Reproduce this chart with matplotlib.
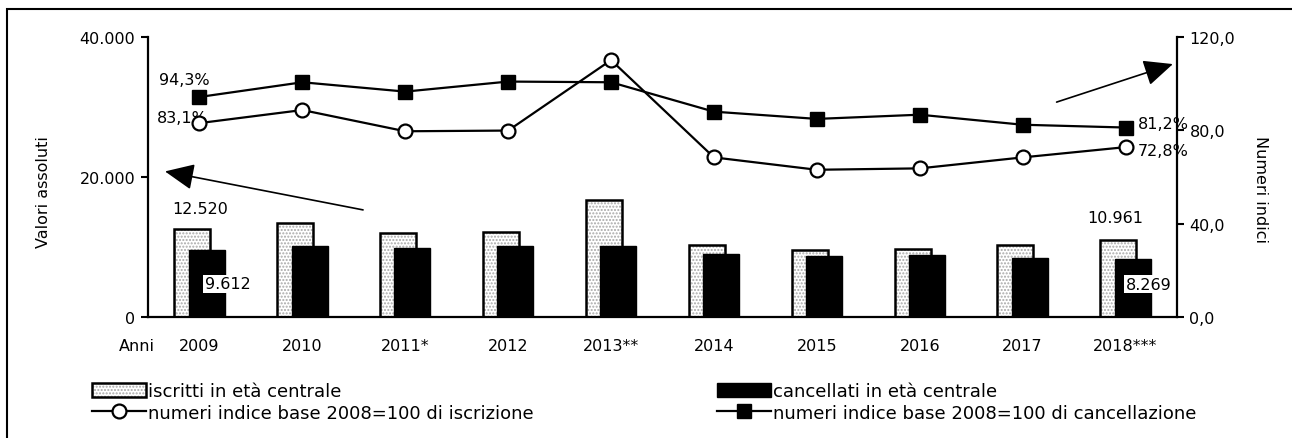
import numpy as np
import matplotlib.pyplot as plt
from matplotlib.patches import Patch, Rectangle
from matplotlib.lines import Line2D
from matplotlib.legend_handler import HandlerTuple

plt.rcParams['font.family'] = ['DejaVu Sans']

anni = ['2009', '2010', '2011*', '2012', '2013**', '2014', '2015', '2016', '2017', '2018***']
iscritti = [12520, 13400, 12050, 12100, 16650, 10350, 9600, 9650, 10250, 10961]
cancellati = [9612, 10200, 9800, 10150, 10150, 9000, 8650, 8800, 8450, 8269]
indice_iscrizione = [83.1, 88.7, 79.6, 79.9, 110.1, 68.4, 63.1, 63.7, 68.4, 72.8]
indice_cancellazione = [94.3, 100.6, 96.6, 100.9, 100.6, 88.0, 84.9, 86.7, 82.4, 81.2]

W, H = 1292, 439
fig = plt.figure(figsize=(W / 100, H / 100), dpi=100)
ax = fig.add_axes([148 / W, 1 - 318 / H, (1177 - 148) / W, (318 - 38) / H])
ax2 = ax.twinx()

# frame around the whole chart
fig.patches.append(Rectangle((7 / W, -0.1), 1.2, 1 - 10 / H + 0.1, transform=fig.transFigure,
                             fill=False, edgecolor='black', linewidth=1.5))

x = np.arange(len(anni))
bw = 0.35
off = 0.07
dots = dict(facecolor='white', edgecolor='#a8a8a8', hatch='.....', linewidth=0)
ax.bar(x - off, iscritti, bw, zorder=2, **dots)
ax.bar(x - off, iscritti, bw, fill=False, edgecolor='black', linewidth=1.8, zorder=3)
ax.bar(x + off, cancellati, bw, color='black', edgecolor='black', linewidth=1.0, zorder=4)

fs = 11.5
ax.set_xlim(-0.5, len(anni) - 0.5)
ax.set_ylim(0, 40000)
ax.set_yticks([0, 20000, 40000])
ax.set_yticklabels(['0', '20.000', '40.000'], fontsize=fs)
ax.set_xticks(x)
ax.set_xticklabels(anni, fontsize=fs)
ax.tick_params(axis='x', length=0, pad=15)
ax.tick_params(axis='y', length=5, width=1.5, pad=4)
for s in ['top', 'right']:
    ax.spines[s].set_visible(False)
for s in ['left', 'bottom']:
    ax.spines[s].set_linewidth(1.6)

ax2.set_ylim(0, 120)
ax2.set_yticks([0, 40, 80, 120])
ax2.set_yticklabels(['0,0', '40,0', '80,0', '120,0'], fontsize=fs)
ax2.tick_params(axis='y', length=5, width=1.5, pad=4)
for s in ['top', 'left', 'bottom']:
    ax2.spines[s].set_visible(False)
ax2.spines['right'].set_linewidth(1.6)

ax2.plot(x, indice_cancellazione, color='black', linewidth=1.6, marker='s', markersize=10,
         markerfacecolor='black', markeredgecolor='black', zorder=5)
ax2.plot(x, indice_iscrizione, color='black', linewidth=1.6, marker='o', markersize=10,
         markerfacecolor='white', markeredgecolor='black', markeredgewidth=1.6, zorder=6)

# value labels
ax.annotate('12.520', (x[0] - off, iscritti[0]), xytext=(8, 13), textcoords='offset pixels',
            ha='center', va='bottom', fontsize=fs)
ax.annotate('10.961', (x[-1] - off, iscritti[-1]), xytext=(-3, 15), textcoords='offset pixels',
            ha='center', va='bottom', fontsize=fs)
ax.annotate('9.612', (x[0] + off, cancellati[0]), xytext=(-2, -34), textcoords='offset pixels',
            ha='left', va='center', fontsize=fs, zorder=10,
            bbox=dict(boxstyle='square,pad=0.1', facecolor='white', edgecolor='none'))
ax.annotate('8.269', (x[-1] + off, cancellati[-1]), xytext=(-7, -25), textcoords='offset pixels',
            ha='left', va='center', fontsize=fs, zorder=10,
            bbox=dict(boxstyle='square,pad=0.1', facecolor='white', edgecolor='none'))
ax2.annotate('94,3%', (x[0], indice_cancellazione[0]), xytext=(-15, 17), textcoords='offset pixels',
             ha='center', va='center', fontsize=fs, zorder=10)
ax2.annotate('83,1%', (x[0], indice_iscrizione[0]), xytext=(-17, 6), textcoords='offset pixels',
             ha='center', va='center', fontsize=fs, zorder=4)
ax2.annotate('81,2%', (x[-1], indice_cancellazione[-1]), xytext=(12, 4), textcoords='offset pixels',
             ha='left', va='center', fontsize=fs, zorder=10)
ax2.annotate('72,8%', (x[-1], indice_iscrizione[-1]), xytext=(12, -3), textcoords='offset pixels',
             ha='left', va='center', fontsize=fs, zorder=10)

# arrows pointing to the reference axis
arrow = dict(arrowstyle='-|>,head_length=1.0,head_width=0.45', color='black', linewidth=1.2,
             mutation_scale=18, shrinkA=0, shrinkB=0)
ax.annotate('', xy=(-0.335, 20800), xytext=(1.59, 15300), arrowprops=arrow, zorder=10)
ax2.annotate('', xy=(9.46, 108.4), xytext=(8.33, 92.1), arrowprops=arrow,
             annotation_clip=False, zorder=10)

fig.text(137 / W, 1 - 347 / H, 'Anni', ha='center', va='center', fontsize=fs)
fig.text(43 / W, 1 - 192 / H, 'Valori assoluti', rotation=90, ha='center', va='center', fontsize=fs)
fig.text(1260 / W, 1 - 190 / H, 'Numeri indici', rotation=270, ha='center', va='center', fontsize=fs)

# legends
h_isc = (Patch(**dots), Patch(fill=False, edgecolor='black', linewidth=1.8))
h_can = Patch(facecolor='black', edgecolor='black')
h_li = Line2D([], [], color='black', linewidth=1.6, marker='o', markersize=10,
              markerfacecolor='white', markeredgewidth=1.6)
h_lc = Line2D([], [], color='black', linewidth=1.6, marker='s', markersize=10)
leg_kw = dict(frameon=False, fontsize=13, handlelength=3.0, handleheight=0.85, handletextpad=0.1,
              labelspacing=0.2, borderpad=0, borderaxespad=0, loc='upper left',
              handler_map={tuple: HandlerTuple(ndivide=1)})
fig.legend([h_isc, h_li], ['iscritti in età centrale', 'numeri indice base 2008=100 di iscrizione'],
           bbox_to_anchor=(92 / W, 1 - 383 / H), **leg_kw)
fig.legend([h_can, h_lc], ['cancellati in età centrale', 'numeri indice base 2008=100 di cancellazione'],
           bbox_to_anchor=(717 / W, 1 - 383 / H), **leg_kw)

fig.savefig('out.png', dpi=100)
